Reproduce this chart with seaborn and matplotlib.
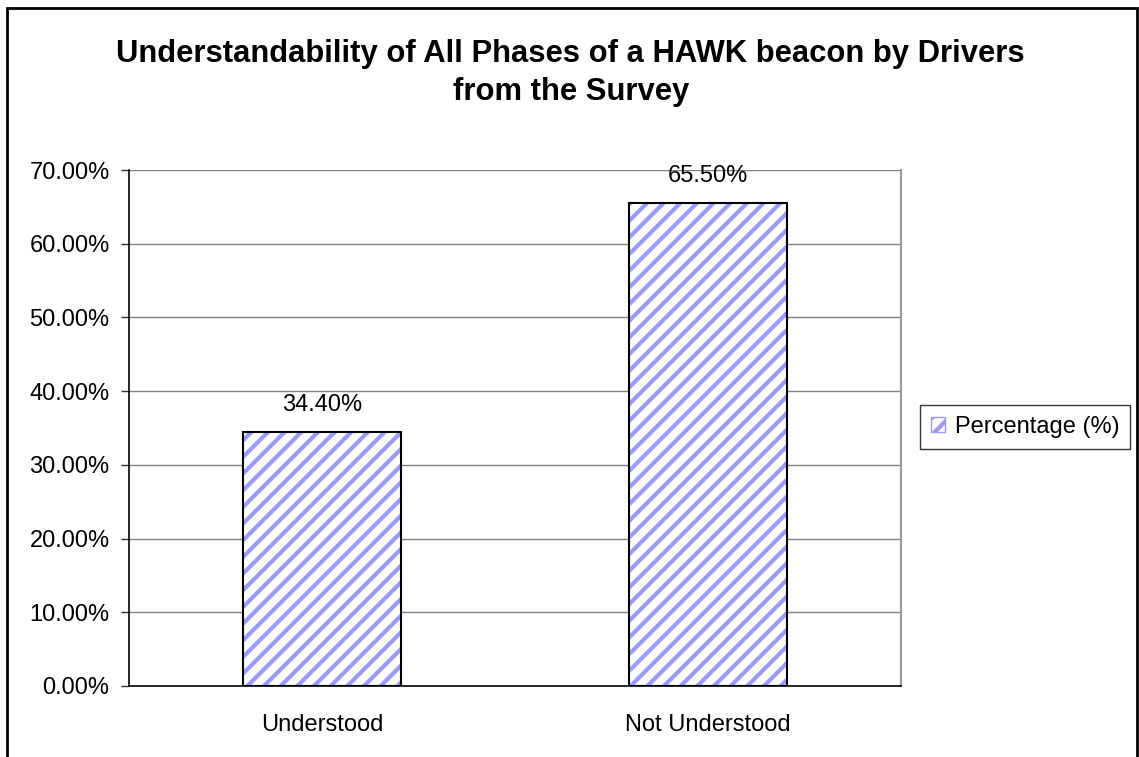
import pandas as pd
import matplotlib
matplotlib.use("Agg")
import matplotlib.pyplot as plt
import seaborn as sns
from matplotlib.patches import Rectangle, Patch
from matplotlib.ticker import PercentFormatter

categories = ["Understood", "Not Understood"]
values = [34.40, 65.50]
series_name = "Percentage (%)"
title = "Understandability of All Phases of a HAWK beacon by Drivers\nfrom the Survey"

df = pd.DataFrame({"category": categories, "value": values})

sns.set_style("white")
plt.rcParams["font.family"] = ["Liberation Sans", "DejaVu Sans"]
plt.rcParams["hatch.linewidth"] = 3.0
plt.rcParams["text.color"] = "black"
plt.rcParams["xtick.color"] = "black"
plt.rcParams["ytick.color"] = "black"

HATCH = "#9999FF"
FS = 17

fig = plt.figure(figsize=(11.39, 7.57), dpi=100)
ax = fig.add_axes([0.1133, 0.0938, 0.6778, 0.6816])

# hatched fill, then black outline on top
sns.barplot(data=df, x="category", y="value", ax=ax, width=0.41,
            color="white", edgecolor=HATCH, hatch="//", linewidth=0, zorder=2)
sns.barplot(data=df, x="category", y="value", ax=ax, width=0.41,
            fill=False, edgecolor="black", linewidth=1.5, zorder=3)

ax.set_ylim(0, 70)
ax.set_xlim(-0.5, 1.5)
ax.set_yticks(range(0, 71, 10))
ax.yaxis.set_major_formatter(PercentFormatter(decimals=2))
ax.grid(axis="y", color="#808080", linewidth=1, zorder=0)
ax.set_axisbelow(True)

# category boundaries as ticks, labels at centers
ax.set_xticks([-0.5, 0.5, 1.5])
ax.set_xticklabels([])
ax.set_xticks([0, 1], minor=True)
ax.set_xticklabels(categories, minor=True)
ax.tick_params(axis="x", which="major", direction="out", length=6, width=1, color="#333333")
ax.tick_params(axis="x", which="minor", length=0, pad=20, labelsize=FS)
ax.tick_params(axis="y", direction="out", length=6, width=1, color="#333333", pad=8, labelsize=FS, left=True)
ax.set_xlabel("")
ax.set_ylabel("")

for s in ["left", "bottom"]:
    ax.spines[s].set_color("black")
    ax.spines[s].set_linewidth(1.2)
ax.spines["right"].set_color("#999999")
ax.spines["right"].set_linewidth(1.5)
ax.spines["top"].set_visible(False)

for bar, v in zip(ax.patches[:len(values)], values):
    ax.annotate(f"{v:.2f}%", (bar.get_x() + bar.get_width() / 2, bar.get_height()),
                xytext=(0, 12), textcoords="offset points", ha="center", va="bottom",
                fontsize=FS)

fig.text(0.501, 0.948, title, ha="center", va="top", fontsize=22.3,
         fontweight="bold", linespacing=1.35)

handle = Patch(facecolor="white", edgecolor=HATCH, hatch="//", linewidth=1)
leg = fig.legend([handle], [series_name], loc="center left",
                 bbox_to_anchor=(0.808, 0.436), fontsize=FS, frameon=True,
                 fancybox=False, handlelength=0.6, handleheight=0.6,
                 handletextpad=0.4, borderpad=0.45, borderaxespad=0)
leg.get_frame().set_edgecolor("black")
leg.get_frame().set_linewidth(1)

fig.patches.append(Rectangle((0.0065, -0.02), 0.9915, 1.0095, transform=fig.transFigure,
                             fill=False, edgecolor="black", linewidth=2))

fig.savefig("out.png", dpi=100, facecolor="white")
